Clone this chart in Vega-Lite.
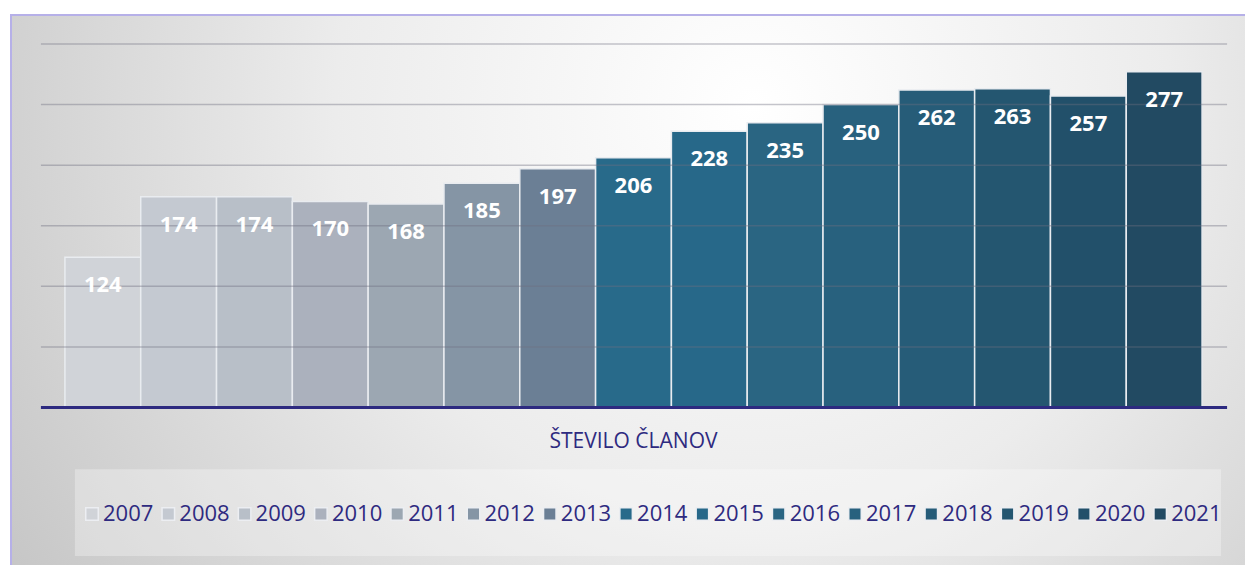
{
  "$schema": "https://vega.github.io/schema/vega-lite/v6.json",
  "width": 1245,
  "height": 565,
  "autosize": {"type": "fit", "contains": "padding"},
  "padding": {"left": 10, "top": 14, "right": -3, "bottom": -3},
  "background": "#ffffff",
  "config": {
    "view": {"stroke": null},
    "font": "Open Sans",
    "legend": {
      "orient": "none",
      "legendX": 70,
      "legendY": 488,
      "direction": "horizontal",
      "columns": 15,
      "padding": 0,
      "labelFont": "Open Sans",
      "labelFontSize": 22,
      "labelColor": "#2e2a80",
      "labelOffset": 0,
      "columnPadding": 3.3,
      "symbolType": "square",
      "symbolSize": 156,
      "symbolStrokeWidth": 1.5,
      "symbolStrokeColor": "#eceef2",
      "symbolOpacity": 1
    }
  },
  "datasets": {
    "members": [
      {"year": "2007", "members": 124},
      {"year": "2008", "members": 174},
      {"year": "2009", "members": 174},
      {"year": "2010", "members": 170},
      {"year": "2011", "members": 168},
      {"year": "2012", "members": 185},
      {"year": "2013", "members": 197},
      {"year": "2014", "members": 206},
      {"year": "2015", "members": 228},
      {"year": "2016", "members": 235},
      {"year": "2017", "members": 250},
      {"year": "2018", "members": 262},
      {"year": "2019", "members": 263},
      {"year": "2020", "members": 257},
      {"year": "2021", "members": 277}
    ],
    "grid": [{"g": 50}, {"g": 100}, {"g": 150}, {"g": 200}, {"g": 250}, {"g": 300}],
    "caption": [{"label": "ŠTEVILO ČLANOV"}]
  },
  "data": {"name": "members"},
  "layer": [
    {
      "mark": {
        "type": "rect",
        "strokeWidth": 2,
        "stroke": "#b6b0e8",
        "color": {
          "gradient": "radial",
          "x1": 0.6, "y1": 0.35, "r1": 0,
          "x2": 0.6, "y2": 0.35, "r2": 0.75,
          "stops": [
            {"offset": 0, "color": "#ffffff"},
            {"offset": 0.45, "color": "#ececec"},
            {"offset": 1, "color": "#c2c2c2"}
          ]
        }
      },
      "encoding": {}
    },
    {
      "mark": {"type": "bar", "stroke": "#e9ecf0", "strokeWidth": 1.5},
      "encoding": {
        "x": {
          "field": "year",
          "type": "nominal",
          "sort": null,
          "axis": null,
          "scale": {"paddingInner": 0, "paddingOuter": 0.6519, "align": 0.5455, "round": false}
        },
        "y": {
          "field": "members",
          "type": "quantitative",
          "axis": null,
          "scale": {"domain": [-131.51, 323.84], "nice": false, "zero": false}
        },
        "y2": {"datum": 0},
        "color": {
          "field": "year",
          "type": "nominal",
          "sort": null,
          "legend": {"title": null},
          "scale": {
            "range": ["#d0d3d8", "#c4c9d1", "#b8bfc8", "#abb1bd", "#9ca7b2", "#8595a5", "#6b7f95", "#286a8a", "#276889", "#2a6582", "#28617e", "#265c78", "#245670", "#22506a", "#224a62"]
          }
        }
      }
    },
    {
      "data": {"name": "caption"},
      "mark": {
        "type": "rect",
        "fill": "#ffffff",
        "fillOpacity": 0.3,
        "xOffset": 10,
        "x2Offset": 19
      },
      "encoding": {
        "x": {"datum": "2007", "bandPosition": 0},
        "x2": {"datum": "2021", "bandPosition": 1},
        "y": {"datum": -50.96},
        "y2": {"datum": -122.47}
      }
    },
    {
      "data": {"name": "grid"},
      "mark": {"type": "rule", "color": "#6e6e80", "strokeWidth": 1.5, "opacity": 0.4, "xOffset": -24, "x2Offset": 25},
      "encoding": {
        "x": {"datum": "2007", "bandPosition": 0},
        "x2": {"datum": "2021", "bandPosition": 1},
        "y": {"field": "g", "type": "quantitative"}
      }
    },
    {
      "data": {"name": "caption"},
      "mark": {"type": "rule", "color": "#2d2a80", "strokeWidth": 3, "xOffset": -24, "x2Offset": 25},
      "encoding": {
        "x": {"datum": "2007", "bandPosition": 0},
        "x2": {"datum": "2021", "bandPosition": 1},
        "y": {"datum": 0}
      }
    },
    {
      "mark": {"type": "text", "color": "#ffffff", "fontWeight": "bold", "fontSize": 22, "font": "Open Sans", "baseline": "middle", "dy": 28},
      "encoding": {
        "x": {"field": "year", "type": "nominal", "sort": null},
        "y": {"field": "members", "type": "quantitative"},
        "text": {"field": "members", "type": "quantitative"}
      }
    },
    {
      "data": {"name": "caption"},
      "mark": {"type": "text", "color": "#2e2a80", "fontSize": 21, "font": "Open Sans", "baseline": "middle"},
      "encoding": {
        "x": {"datum": "2014"},
        "y": {"datum": -28.8},
        "text": {"field": "label", "type": "nominal"}
      }
    }
  ]
}
